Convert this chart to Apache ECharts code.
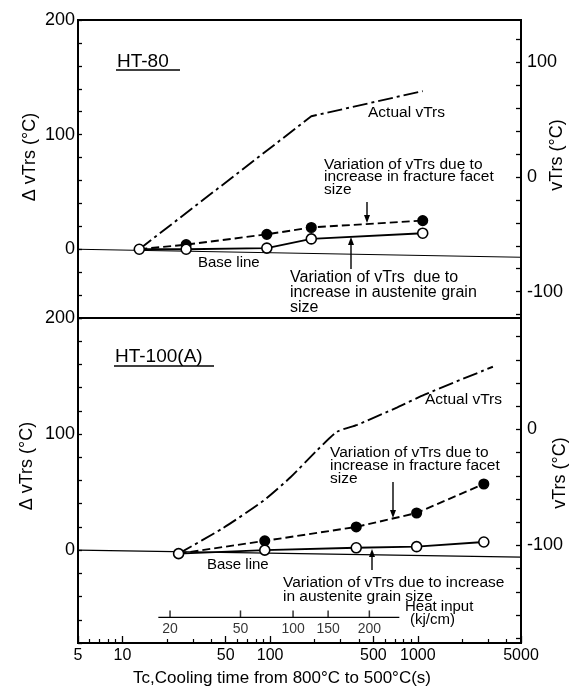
<!DOCTYPE html>
<html><head><meta charset="utf-8">
<script src="https://cdn.jsdelivr.net/npm/echarts@6/dist/echarts.min.js"></script>
<style>html,body{margin:0;padding:0;background:#fff}#c{width:578px;height:693px}</style>
</head><body><div id="c"></div>
<script>
// ---------- data ----------
// HT-80 (top panel)
const tcTop = [13, 27, 95, 190, 1080];
const grainTop = [0, 0, 1, 9, 14];
const facetTop = [0, 4, 13, 19, 25];
const actualTopTc = [13, 190, 1080];
const actualTop = [0, 116, 138];
const baseTc = [5, 5000];
const baseTop = [0, -7];
// HT-100(A) (bottom panel)
const tcBot = [24, 92, 383, 982, 2800];
const grainBot = [-3, 0, 2, 3, 7];
const facetBot = [-3, 8, 20, 32, 57];
const actualBotTc = [24, 48, 91, 138, 208, 284, 389, 728, 1111, 3226];
const actualBot = [-3, 19, 43, 63, 86, 102, 108, 123, 134, 158];
const baseBot = [0, -6];
// axes
const xMajorTicks = [5, 10, 50, 100, 500, 1000, 5000];
const xMinorTicks = [6, 7, 8, 9, 20, 30, 40, 60, 70, 80, 90, 200, 300, 400, 600, 700, 800, 900, 2000, 3000, 4000];
const heatInput = [20, 50, 100, 150, 200];
const heatTc = [21, 63, 143, 247, 470];
const heatSpanTc = [17.5, 750];
const heatLevel = [-58, -58];
const rightTopTicks = [-120, -100, -80, -60, -40, -20, 0, 20, 40, 60, 80, 100, 120];
const rightTopLabels = [-100, 0, 100];
const rightBotTicks = [-180, -160, -140, -120, -100, -80, -60, -40, -20, 0, 20, 40, 60, 80];
const rightBotLabels = [-100, 0];
const leftLabels = [0, 100, 200];

// ---------- helpers ----------
const zip = (xs, ys) => xs.map((x, i) => [x, ys[i]]);
const FONT = 'Liberation Sans';
const BLK = '#000';
const dashDot = [15, 4, 3, 4];
const dashed = [8, 4];

function lineSeries(xi, yi, data, type, sym, fill, z, size) {
  return {
    type: 'line', xAxisIndex: xi, yAxisIndex: yi, data: data,
    symbol: sym, symbolSize: size || 10, showSymbol: sym !== 'none', z: z,
    lineStyle: { color: BLK, width: 1.9, type: type },
    itemStyle: { color: fill, borderColor: BLK, borderWidth: 1.6 },
    emphasis: { disabled: true }, silent: true
  };
}
function facetData(xs, ys) {
  return zip(xs, ys).map((p, i) => i === 0 ? { value: p, symbol: 'none' } : { value: p });
}
function leftAxis(grid, min) {
  return {
    type: 'value', gridIndex: grid, position: 'left', min: min, max: 200, interval: 20,
    axisLine: { show: true, onZero: false, lineStyle: { color: BLK, width: 2 } },
    axisTick: { show: true, inside: true, length: 4, lineStyle: { color: BLK, width: 1.3 } },
    axisLabel: { color: BLK, fontSize: 18, fontFamily: FONT, margin: 3,
      formatter: v => leftLabels.indexOf(v) >= 0 ? String(v) : '' },
    splitLine: { show: false }
  };
}
function rightAxis(grid, min, max, ticks, labels) {
  return {
    type: 'value', gridIndex: grid, position: 'right', min: min, max: max,
    axisLine: { show: true, onZero: false, lineStyle: { color: BLK, width: 2 } },
    axisTick: { show: true, inside: true, length: 5, customValues: ticks, lineStyle: { color: BLK, width: 1.3 } },
    axisLabel: { color: BLK, fontSize: 18, fontFamily: FONT, margin: 6, customValues: labels },
    splitLine: { show: false }
  };
}
function txt(x, y, s, size) {
  return { type: 'text', x: x, y: y, silent: true,
    style: { text: s, fill: BLK, fontSize: size, fontFamily: FONT, align: 'left', verticalAlign: 'middle' } };
}
function rtxt(x, y, s, size) {
  return { type: 'text', x: x, y: y, silent: true, rotation: Math.PI / 2,
    style: { text: s, fill: BLK, fontSize: size, fontFamily: FONT, align: 'center', verticalAlign: 'middle' } };
}
function mtxt(x, yTop, s, size, lh) {
  return { type: 'text', x: x, y: yTop, silent: true,
    style: { text: s, fill: BLK, fontSize: size, fontFamily: FONT, align: 'left', verticalAlign: 'top', lineHeight: lh } };
}
function arrow(x, y1, y2) {
  const d = y2 > y1 ? -1 : 1;
  return [
    { type: 'line', silent: true, shape: { x1: x, y1: y1, x2: x, y2: y2 + d * 4 }, style: { stroke: BLK, lineWidth: 1.4 } },
    { type: 'polygon', silent: true, shape: { points: [[x - 3, y2 + d * 8], [x + 3, y2 + d * 8], [x, y2]] }, style: { fill: BLK } }
  ];
}
function hline(x1, x2, y) {
  return { type: 'line', silent: true, shape: { x1: x1, y1: y, x2: x2, y2: y }, style: { stroke: BLK, lineWidth: 1.6 } };
}
function logAxis(grid, extra) {
  return Object.assign({ type: 'log', gridIndex: grid, min: 5, max: 5000, logBase: 10, position: 'bottom', offset: 0,
    axisLine: { show: true, onZero: false, lineStyle: { color: BLK, width: 2 } },
    axisTick: { show: false }, axisLabel: { show: false }, splitLine: { show: false } }, extra);
}

const chart = echarts.init(document.getElementById('c'), null, { renderer: 'canvas' });
chart.setOption({
  animation: false,
  backgroundColor: '#fff',
  grid: [
    { left: 78, right: 57, top: 20, height: 298, show: true, borderColor: BLK, borderWidth: 2 },
    { left: 78, right: 57, top: 318, height: 325, show: true, borderColor: BLK, borderWidth: 2 }
  ],
  xAxis: [
    logAxis(0, {}),
    logAxis(1, {
      axisTick: { show: true, inside: true, length: 7, customValues: xMajorTicks, lineStyle: { color: BLK, width: 1.3 } },
      axisLabel: { show: true, customValues: xMajorTicks, color: BLK, fontSize: 16, fontFamily: FONT, margin: 5,
        formatter: v => String(Math.round(v)) }
    }),
    logAxis(1, {
      axisLine: { show: false, onZero: false },
      axisTick: { show: true, inside: true, length: 4, customValues: xMinorTicks, lineStyle: { color: BLK, width: 1.2 } }
    })
  ],
  yAxis: [
    leftAxis(0, -60),
    rightAxis(0, -123, 137, rightTopTicks, rightTopLabels),
    leftAxis(1, -80),
    rightAxis(1, -184, 96, rightBotTicks, rightBotLabels)
  ],
  series: [
    // top panel
    Object.assign(lineSeries(0, 0, zip(baseTc, baseTop), 'solid', 'none', BLK, 2), { lineStyle: { color: BLK, width: 1.2 } }),
    lineSeries(0, 0, zip(actualTopTc, actualTop), dashDot, 'none', BLK, 3),
    lineSeries(0, 0, facetData(tcTop, facetTop), dashed, 'circle', BLK, 4, 9.5),
    lineSeries(0, 0, zip(tcTop, grainTop), 'solid', 'circle', '#fff', 5),
    // bottom panel
    Object.assign(lineSeries(1, 2, zip(baseTc, baseBot), 'solid', 'none', BLK, 2), { lineStyle: { color: BLK, width: 1.2 } }),
    Object.assign(lineSeries(1, 2, zip(actualBotTc, actualBot), dashDot, 'none', BLK, 3), { smooth: 0.2 }),
    lineSeries(1, 2, facetData(tcBot, facetBot), dashed, 'circle', BLK, 4, 9.5),
    lineSeries(1, 2, zip(tcBot, grainBot), 'solid', 'circle', '#fff', 5),
    // heat input scale
    Object.assign(lineSeries(1, 2, zip(heatSpanTc, heatLevel), 'solid', 'none', BLK, 2), { lineStyle: { color: BLK, width: 1.3 } }),
    {
      type: 'scatter', xAxisIndex: 1, yAxisIndex: 2, silent: true, z: 2,
      data: heatTc.map(t => [t, heatLevel[0]]),
      symbol: 'rect', symbolSize: [1.5, 7], symbolOffset: [0, -3.5],
      itemStyle: { color: BLK },
      label: { show: true, position: 'bottom', distance: 5, color: BLK, fontSize: 14, fontFamily: FONT,
        formatter: p => String(heatInput[p.dataIndex]) }
    }
  ],
  graphic: [
    // axis titles
    rtxt(30, 157, 'Δ vTrs (°C)', 18),
    rtxt(27, 466, 'Δ vTrs (°C)', 18),
    rtxt(557, 155, 'vTrs (°C)', 18),
    rtxt(560, 473, 'vTrs (°C)', 18),
    { type: 'text', x: 282, y: 678, silent: true,
      style: { text: 'Tc,Cooling time from 800°C to 500°C(s)', fill: BLK, fontSize: 17, fontFamily: FONT, align: 'center', verticalAlign: 'middle' } },
    // top panel annotations
    txt(117, 62, 'HT-80', 19), hline(116, 180, 70),
    txt(368, 113, 'Actual vTrs', 15.5),
    mtxt(324, 158, 'Variation of vTrs due to\nincrease in fracture facet\nsize', 15.5, 12.5),
    ...arrow(367, 202, 223),
    txt(198, 263, 'Base line', 15),
    ...arrow(351, 269, 237),
    mtxt(290, 270, 'Variation of vTrs  due to\nincrease in austenite grain\nsize', 16, 15),
    // bottom panel annotations
    txt(115, 357, 'HT-100(A)', 19), hline(114, 214, 366),
    txt(425, 400, 'Actual vTrs', 15.5),
    mtxt(330, 446, 'Variation of vTrs due to\nincrease in fracture facet\nsize', 15.5, 13),
    ...arrow(393, 482, 518),
    txt(207, 565, 'Base line', 15),
    ...arrow(372, 570, 549),
    mtxt(283, 576, 'Variation of vTrs due to increase\nin austenite grain size', 15.5, 14),
    txt(405, 607, 'Heat input', 15),
    txt(410, 620, '(kj/cm)', 15)
  ]
});
</script>
</body></html>
